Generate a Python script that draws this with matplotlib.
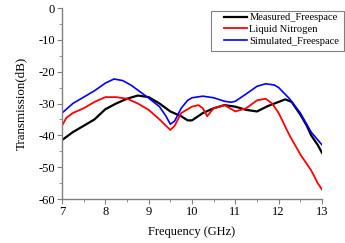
import matplotlib
matplotlib.use("Agg")
import matplotlib.pyplot as plt
from matplotlib.ticker import MultipleLocator
from matplotlib.patches import Rectangle

plt.rcParams['font.family'] = ['Liberation Serif', 'DejaVu Serif']
plt.rcParams['axes.unicode_minus'] = False

meas_f = [7.0, 7.1, 7.25, 7.5, 7.75, 8.0, 8.25, 8.5, 8.75, 9.0, 9.25, 9.5, 9.75, 9.9, 10.0, 10.25,
          10.5, 10.75, 11.0, 11.25, 11.5, 11.75, 12.0, 12.15, 12.3, 12.5, 12.65, 12.75, 12.9, 13.0]
meas_db = [-41.5, -40.5, -39, -37, -35, -31.8, -30, -28.5, -27.5, -28, -30, -32.5, -34, -35.3, -35.3, -33,
           -31.5, -30.5, -31, -32, -32.5, -30.8, -29.5, -28.7, -29.5, -33.5, -37, -40, -43, -45.5]

ln2_f = [7.0, 7.1, 7.25, 7.5, 7.75, 8.0, 8.25, 8.5, 8.75, 9.0, 9.25, 9.4, 9.5, 9.6, 9.75, 10.0,
         10.15, 10.25, 10.35, 10.5, 10.75, 11.0, 11.25, 11.5, 11.7, 11.85, 12.0, 12.25, 12.5, 12.75, 12.9, 13.0]
ln2_db = [-37, -34.5, -33, -31.5, -29.5, -28, -28, -28.5, -30, -32, -35, -37, -38.3, -37, -33, -31,
          -30.5, -31.5, -34, -31.5, -30.5, -32.5, -31.5, -29, -28.5, -30, -33, -40, -46, -51, -55, -57]

sim_f = [7.0, 7.25, 7.5, 7.75, 8.0, 8.2, 8.4, 8.6, 8.8, 9.0, 9.25, 9.4, 9.5, 9.6, 9.75, 9.9, 10.0, 10.25,
         10.5, 10.75, 10.9, 11.0, 11.25, 11.5, 11.7, 11.9, 12.0, 12.25, 12.5, 12.75, 13.0]
sim_db = [-33, -30, -28, -26, -23.6, -22.3, -22.8, -24.3, -26.3, -28.3, -31, -34, -36.5, -35.5, -31.5, -29, -28.2, -27.7,
          -28.2, -29.3, -29.6, -29.3, -27, -24.6, -23.8, -24.2, -25, -28.5, -33, -39, -43]

labels = ['Measured_Freespace', 'Liquid Nitrogen', 'Simulated_Freespace']
colors = ['#000000', '#ff0000', '#0000ff']

W, H = 345, 243
fig = plt.figure(figsize=(3.45, 2.43), dpi=100)
ax = fig.add_axes([62 / W, 1 - 199 / H, 260 / W, 191 / H])

ax.plot(meas_f, meas_db, color=colors[0], lw=1.6, label=labels[0])
ax.plot(ln2_f, ln2_db, color=colors[1], lw=1.3, label=labels[1])
ax.plot(sim_f, sim_db, color=colors[2], lw=1.2, label=labels[2])

ax.set_xlim(7, 13)
ax.set_ylim(-60, 0)
ax.xaxis.set_major_locator(MultipleLocator(1))
ax.xaxis.set_minor_locator(MultipleLocator(0.5))
ax.yaxis.set_major_locator(MultipleLocator(10))
ax.yaxis.set_minor_locator(MultipleLocator(5))
for s in ['top', 'right']:
    ax.spines[s].set_visible(False)
for s in ['left', 'bottom']:
    ax.spines[s].set_color('#808080')
    ax.spines[s].set_linewidth(1.0)
ax.tick_params(which='both', direction='out', colors='#808080', labelcolor='black', labelsize=9)
ax.tick_params(which='major', length=3.5, pad=1.5)
ax.tick_params(which='minor', length=2)
ax.set_xlabel('Frequency (GHz)', fontsize=9, labelpad=6)
ax.set_ylabel('Transmission(dB)', fontsize=9.4, labelpad=8)

box = Rectangle((211 / W, 1 - 51 / H), 133 / W, 40 / H, transform=fig.transFigure,
                facecolor='white', edgecolor='#808080', linewidth=0.8, zorder=5, clip_on=False)
ax.add_artist(box)
leg = ax.legend(loc='upper left', bbox_to_anchor=(224 / W, 1 - 13 / H), bbox_transform=fig.transFigure,
                fontsize=7.6, frameon=False, handlelength=2.2, handletextpad=0.2, borderpad=0,
                labelspacing=0.22, borderaxespad=0)
leg.set_zorder(6)

fig.savefig('out.png', dpi=100)
